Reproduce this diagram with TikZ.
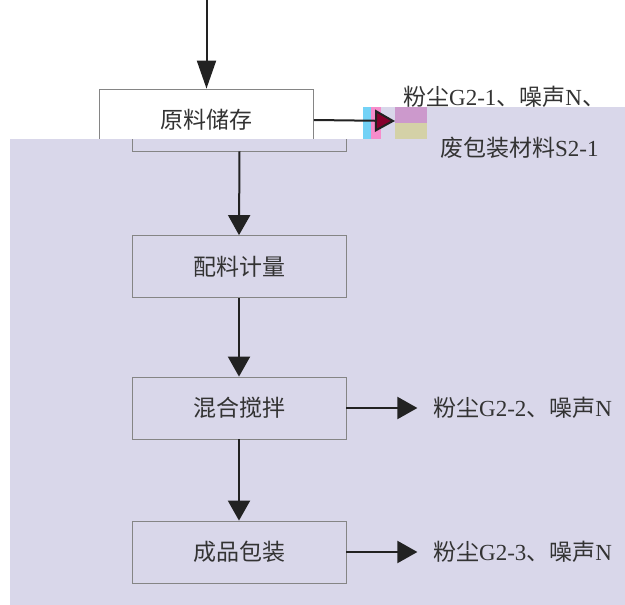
\documentclass[tikz,border=0pt]{standalone}
\usepackage{fontspec}
\setmainfont{Liberation Serif}
\newfontfamily\cjk{Noto Sans CJK SC}
\usepackage{xcolor}
\usetikzlibrary{arrows.meta}

\definecolor{bgband}{HTML}{D9D7EA}
\definecolor{boxline}{HTML}{858585}
\definecolor{inkdark}{HTML}{222222}
\definecolor{inkgrey}{HTML}{333333}

\tikzset{
    stage/.style={draw=boxline, line width=0.8pt, minimum width=214pt,
        minimum height=62pt, inner sep=0pt, text=inkgrey,
        font=\fontsize{23}{27}\selectfont\cjk},
    flow/.style={draw=inkdark, line width=2pt,
        -{Triangle[length=20pt,width=22pt]}},
    emit/.style={anchor=west, inner sep=0pt, text=inkgrey,
        font=\fontsize{23}{27}\selectfont},
}

\begin{document}
\begin{tikzpicture}[x=1pt,y=-1pt]
                \useasboundingbox
                    (0,0) rectangle (625,605);
                \node[stage, fill=white] (store)
                    at (206.5,120) {原料储存};
                % lavender band over the lower part
                \fill[bgband]
                    (10,605) -- (10,139) -- (363,139) -- (363,107)
                    -- (625,107) -- (625,605) -- cycle;
                \begin{scope}
                    \clip (10,139) rectangle (625,605);
                    \node[stage] (storeframe)
                        at (239.5,120) {};
                \end{scope}
                % glitch blocks
                \fill[cyan!55] (363,107) rectangle (371,139);
                \fill[magenta!45] (371,107) rectangle (381,139);
                \fill[violet!40] (395,107) rectangle (427,123);
                \fill[yellow!35!gray!60] (395,123) rectangle (427,139);

                \coordinate (feed) at (206.5,0);
                \coordinate (glitch) at (395,121);
                \node[stage] (dosing)
                    at (239,266.5) {配料计量};
                \node[stage] (mixing)
                    at (239,408) {混合搅拌};
                \node[stage] (packing)
                    at (239,552) {成品包装};

                \node[emit] (dustA)
                    at (403,97) {{\cjk 粉尘}G2-1{\cjk 、噪声}N{\cjk 、}};
                \node[emit] (waste)
                    at (440,148) {{\cjk 废包装材料}S2-1};
                \node[emit] (dustB)
                    at (433,408) {{\cjk 粉尘}G2-2{\cjk 、噪声}N};
                \node[emit] (dustC)
                    at (433,552) {{\cjk 粉尘}G2-3{\cjk 、噪声}N};

                \draw[flow, -{Triangle[length=28pt,width=19pt]}]
                    (feed) -- (store.north);
                \draw[flow, -{Triangle[length=20pt,width=22pt,fill=purple!70!black]}]
                    (store.east) -- (glitch);
                \draw[flow] (storeframe.south) -- (dosing.north);
                \draw[flow] (dosing.south) -- (mixing.north);
                \draw[flow] (mixing.south) -- (packing.north);
                \draw[flow] (mixing.east) -- +(71,0);
                \draw[flow] (packing.east) -- +(71,0);
\end{tikzpicture}
\end{document}
